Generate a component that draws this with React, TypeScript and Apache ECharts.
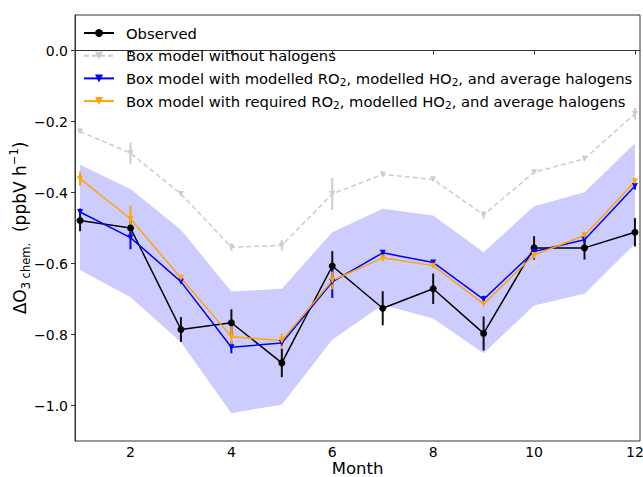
import React, { useEffect, useRef } from 'react';
import * as echarts from 'echarts';

const months = [1, 2, 3, 4, 5, 6, 7, 8, 9, 10, 11, 12];

const observed = [-0.479, -0.5, -0.786, -0.767, -0.88, -0.607, -0.726, -0.671, -0.797, -0.556, -0.556, -0.512];
const observedErr = [0.03, 0.02, 0.035, 0.038, 0.04, 0.042, 0.048, 0.043, 0.048, 0.033, 0.033, 0.04];

const noHalogens = [-0.228, -0.289, -0.404, -0.554, -0.549, -0.404, -0.349, -0.363, -0.463, -0.343, -0.305, -0.178];
const noHalogensErr = [0.005, 0.03, 0.005, 0.01, 0.015, 0.045, 0.005, 0.005, 0.01, 0.005, 0.005, 0.016];

const modelledRO2 = [-0.455, -0.527, -0.651, -0.836, -0.824, -0.652, -0.57, -0.597, -0.701, -0.566, -0.533, -0.382];
const modelledRO2Err = [0.01, 0.033, 0.005, 0.017, 0.01, 0.045, 0.005, 0.005, 0.01, 0.01, 0.01, 0.01];

const requiredRO2 = [-0.361, -0.474, -0.641, -0.806, -0.817, -0.648, -0.584, -0.606, -0.714, -0.576, -0.521, -0.369];
const requiredRO2Err = [0.02, 0.037, 0.01, 0.03, 0.02, 0.025, 0.01, 0.005, 0.005, 0.01, 0.01, 0.01];

const bandUpper = [-0.322, -0.39, -0.505, -0.679, -0.671, -0.512, -0.446, -0.465, -0.568, -0.439, -0.399, -0.261];
const bandLower = [-0.618, -0.695, -0.822, -1.022, -0.997, -0.815, -0.716, -0.755, -0.853, -0.718, -0.685, -0.545];

const xTicks = [2, 4, 6, 8, 10, 12];
const yTicks = [-1.0, -0.8, -0.6, -0.4, -0.2, 0.0];

const FONT = 'DejaVu Sans';
const DOWN_TRI = 'path://M0,0L10,0L5,8.66Z';

function errorSeries(name: string, vals: number[], errs: number[], color: string) {
  return {
    type: 'custom',
    name: name + ' err',
    data: months.map((m, i) => [m, vals[i], errs[i]]),
    encode: { x: 0, y: 1 },
    silent: true,
    renderItem: (params: any, api: any) => {
      const x = api.value(0);
      const y = api.value(1);
      const e = api.value(2);
      const p1 = api.coord([x, y + e]);
      const p2 = api.coord([x, y - e]);
      return {
        type: 'line',
        shape: { x1: p1[0], y1: p1[1], x2: p2[0], y2: p2[1] },
        style: { stroke: color, lineWidth: 2 },
      };
    },
  };
}

function lineSeries(name: string, vals: number[], color: string, symbol: string, size: number, dashed = false) {
  return {
    type: 'line',
    name,
    data: months.map((m, i) => [m, vals[i]]),
    symbol,
    symbolSize: size,
    showSymbol: true,
    lineStyle: { color, width: 1.5, type: dashed ? [5, 3] : 'solid' },
    itemStyle: { color, borderWidth: 0 },
  };
}

const legendNames = [
  'Observed',
  'Box model without halogens',
  'Box model with modelled RO2, modelled HO2, and average halogens',
  'Box model with required RO2, modelled HO2, and average halogens',
];

export default function App() {
  const ref = useRef<HTMLDivElement>(null);
  useEffect(() => {
    if (!ref.current) return;
    const chart = echarts.init(ref.current, null, { renderer: 'svg' });
    const option: any = {
      animation: false,
      backgroundColor: '#ffffff',
      textStyle: { fontFamily: FONT },
      grid: {
        left: 75,
        top: 15,
        right: 3,
        bottom: 36,
        show: true,
        containLabel: false,
        outerBoundsMode: 'none',
        borderColor: '#333',
        borderWidth: 1,
        backgroundColor: 'transparent',
      },
      legend: {
        orient: 'vertical',
        left: 83,
        top: 24,
        padding: 0,
        itemWidth: 30,
        itemHeight: 10,
        itemGap: 4.7,
        data: legendNames,
        selectedMode: false,
        formatter: (n: string) => n.replace(/O2/g, 'O{sub|2}'),
        textStyle: {
          fontFamily: FONT,
          fontSize: 14.75,
          color: '#000',
          lineHeight: 18,
          padding: [0, 0, 0, 7],
          rich: {
            sub: { fontFamily: FONT, fontSize: 10.5, lineHeight: 10, verticalAlign: 'bottom', color: '#000' },
          },
        },
      },
      xAxis: {
        type: 'value',
        min: 0.9,
        max: 12.1,
        name: 'Month',
        nameLocation: 'middle',
        nameGap: 19.5,
        nameMoveOverlap: false,
        nameTextStyle: { fontFamily: FONT, fontSize: 16.5, color: '#000', lineHeight: 16.5 },
        axisLine: { show: true, lineStyle: { color: '#333', width: 1 } },
        axisTick: { show: true, length: 4, customValues: xTicks, lineStyle: { color: '#333' } },
        axisLabel: { customValues: xTicks, fontFamily: FONT, fontSize: 14, color: '#000', margin: 4, lineHeight: 14 },
        splitLine: { show: false },
      },
      yAxis: {
        type: 'value',
        min: -1.1,
        max: 0.1,
        name: 'ΔO{sub|3 chem.}  (ppbV h{sup|−1})',
        nameLocation: 'middle',
        nameRotate: 90,
        nameGap: 43,
        nameMoveOverlap: false,
        nameTextStyle: {
          fontFamily: FONT,
          fontSize: 17,
          color: '#000',
          lineHeight: 24,
          rich: {
            sub: { fontFamily: FONT, fontSize: 11.5, lineHeight: 12, verticalAlign: 'bottom', color: '#000' },
            sup: { fontFamily: FONT, fontSize: 11.5, lineHeight: 12, verticalAlign: 'top', color: '#000' },
          },
        },
        axisLine: { show: true, lineStyle: { color: '#333', width: 1 } },
        axisTick: { show: true, length: 4, customValues: yTicks, lineStyle: { color: '#333' } },
        axisLabel: {
          customValues: yTicks,
          fontFamily: FONT,
          fontSize: 14,
          color: '#000',
          margin: 7,
          formatter: (v: number) => (v < -1e-9 ? '−' : '') + Math.abs(v).toFixed(1),
        },
        splitLine: { show: false },
      },
      series: [
        {
          type: 'custom',
          name: 'band',
          silent: true,
          data: months.map((m, i) => [m, bandLower[i], bandUpper[i]]),
          encode: { x: 0, y: [1, 2] },
          z: 1,
          renderItem: (params: any, api: any) => {
            if (params.dataIndex !== 0) return null;
            const pts: number[][] = [];
            for (let i = 0; i < months.length; i++) pts.push(api.coord([months[i], bandUpper[i]]));
            for (let i = months.length - 1; i >= 0; i--) pts.push(api.coord([months[i], bandLower[i]]));
            return { type: 'polygon', shape: { points: pts }, style: { fill: 'rgba(0,0,255,0.2)' } };
          },
        },
        lineSeries(legendNames[0], observed, '#000000', 'circle', 7),
        errorSeries(legendNames[0], observed, observedErr, '#111111'),
        lineSeries(legendNames[1], noHalogens, '#cccccc', DOWN_TRI, 6, true),
        errorSeries(legendNames[1], noHalogens, noHalogensErr, '#cccccc'),
        lineSeries(legendNames[2], modelledRO2, '#0000ff', DOWN_TRI, 6),
        errorSeries(legendNames[2], modelledRO2, modelledRO2Err, '#0000ff'),
        lineSeries(legendNames[3], requiredRO2, '#ffa500', DOWN_TRI, 6),
        errorSeries(legendNames[3], requiredRO2, requiredRO2Err, '#ffa500'),
      ],
    };
    chart.setOption(option);
    return () => chart.dispose();
  }, []);
  return <div ref={ref} style={{ position: 'fixed', left: 0, top: 0, width: 643, height: 477 }} />;
}
